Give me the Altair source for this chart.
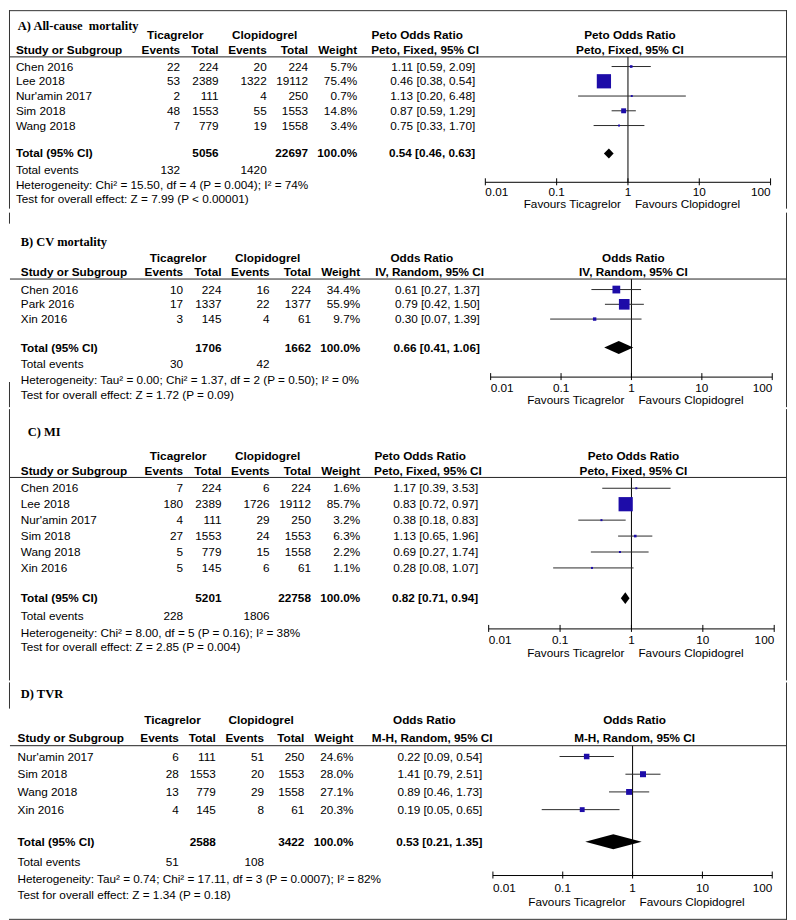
import altair as alt
import pandas as pd

# ---------------- DATA ----------------
# A) All-cause mortality (Peto, Fixed)
A_study = ["Chen 2016", "Lee 2018", "Nur'amin 2017", "Sim 2018", "Wang 2018"]
A_tica_ev = [22, 53, 2, 48, 7]
A_tica_tot = [224, 2389, 111, 1553, 779]
A_clop_ev = [20, 1322, 4, 55, 19]
A_clop_tot = [224, 19112, 250, 1553, 1558]
A_weight = [5.7, 75.4, 0.7, 14.8, 3.4]
A_or = [1.11, 0.46, 1.13, 0.87, 0.75]
A_lo = [0.59, 0.38, 0.20, 0.59, 0.33]
A_hi = [2.09, 0.54, 6.48, 1.29, 1.70]
A_total = [5056, 22697, 0.54, 0.46, 0.63]
A_events = [132, 1420]
A_het = "Heterogeneity: Chi\u00b2 = 15.50, df = 4 (P = 0.004); I\u00b2 = 74%"
A_test = "Test for overall effect: Z = 7.99 (P < 0.00001)"
A_method = ["Peto Odds Ratio", "Peto, Fixed, 95% CI"]
A_title = "A) All-cause\u00a0\u00a0mortality"

# B) CV mortality (IV, Random)
B_study = ["Chen 2016", "Park 2016", "Xin 2016"]
B_tica_ev = [10, 17, 3]
B_tica_tot = [224, 1337, 145]
B_clop_ev = [16, 22, 4]
B_clop_tot = [224, 1377, 61]
B_weight = [34.4, 55.9, 9.7]
B_or = [0.61, 0.79, 0.30]
B_lo = [0.27, 0.42, 0.07]
B_hi = [1.37, 1.50, 1.39]
B_total = [1706, 1662, 0.66, 0.41, 1.06]
B_events = [30, 42]
B_het = "Heterogeneity: Tau\u00b2 = 0.00; Chi\u00b2 = 1.37, df = 2 (P = 0.50); I\u00b2 = 0%"
B_test = "Test for overall effect: Z = 1.72 (P = 0.09)"
B_method = ["Odds Ratio", "IV, Random, 95% CI"]
B_title = "B) CV mortality"

# C) MI (Peto, Fixed)
C_study = ["Chen 2016", "Lee 2018", "Nur'amin 2017", "Sim 2018", "Wang 2018", "Xin 2016"]
C_tica_ev = [7, 180, 4, 27, 5, 5]
C_tica_tot = [224, 2389, 111, 1553, 779, 145]
C_clop_ev = [6, 1726, 29, 24, 15, 6]
C_clop_tot = [224, 19112, 250, 1553, 1558, 61]
C_weight = [1.6, 85.7, 3.2, 6.3, 2.2, 1.1]
C_or = [1.17, 0.83, 0.38, 1.13, 0.69, 0.28]
C_lo = [0.39, 0.72, 0.18, 0.65, 0.27, 0.08]
C_hi = [3.53, 0.97, 0.83, 1.96, 1.74, 1.07]
C_total = [5201, 22758, 0.82, 0.71, 0.94]
C_events = [228, 1806]
C_het = "Heterogeneity: Chi\u00b2 = 8.00, df = 5 (P = 0.16); I\u00b2 = 38%"
C_test = "Test for overall effect: Z = 2.85 (P = 0.004)"
C_method = ["Peto Odds Ratio", "Peto, Fixed, 95% CI"]
C_title = "C) MI"

# D) TVR (M-H, Random)
D_study = ["Nur'amin 2017", "Sim 2018", "Wang 2018", "Xin 2016"]
D_tica_ev = [6, 28, 13, 4]
D_tica_tot = [111, 1553, 779, 145]
D_clop_ev = [51, 20, 29, 8]
D_clop_tot = [250, 1553, 1558, 61]
D_weight = [24.6, 28.0, 27.1, 20.3]
D_or = [0.22, 1.41, 0.89, 0.19]
D_lo = [0.09, 0.79, 0.46, 0.05]
D_hi = [0.54, 2.51, 1.73, 0.65]
D_total = [2588, 3422, 0.53, 0.21, 1.35]
D_events = [51, 108]
D_het = "Heterogeneity: Tau\u00b2 = 0.74; Chi\u00b2 = 17.11, df = 3 (P = 0.0007); I\u00b2 = 82%"
D_test = "Test for overall effect: Z = 1.34 (P = 0.18)"
D_method = ["Odds Ratio", "M-H, Random, 95% CI"]
D_title = "D) TVR"

TICKS = [0.01, 0.1, 1, 10, 100]
TICK_LABELS = ["0.01", "0.1", "1", "10", "100"]
FAV = ["Favours Ticagrelor", "Favours Clopidogrel"]

# ---------------- LAYOUT (reference pixel geometry) ----------------
S = 780 / 791.0


def PX(r):
    return (r - 3) * S


def PY(r):
    return (r - 1) * S


FONT = "Liberation Sans"
SERIF = "Liberation Serif"
FS = 11.8
SQ = "#1d0ca8"

LAYOUTS = [
    dict(title=(12, 17), h1=26, h2=42, line=48.5, row0=58.3, sp=15, total=146.7, tev=163.3,
         het=179, test=193.3, axis=176, ticklab=185.5, fav=198,
         study=10, ev1=177, tot1=216, ev2=265, tot2=307, wt=357, ort=477,
         x001=487.3, x100=777.3, dh=5, a=0.86, top=0, height=199, gaps=[]),
    dict(title=(15, 233), h1=249, h2=263.5, line=270.3, row0=281, sp=15, total=340, tev=356.7,
         het=372.5, test=388.3, axis=370, ticklab=380.7, fav=393.3,
         study=15, ev1=180, tot1=219, ev2=268, tot2=310, wt=360, ort=481.7,
         x001=492.7, x100=779, dh=6.5, a=0.78, top=199, height=195, gaps=[(214, 375)]),
    dict(title=(22, 423.3), h1=447.7, h2=463.3, line=470, row0=481, sp=16.2, total=592.7, tev=610.7,
         het=627.7, test=642.7, axis=624, ticklab=635, fav=648.3,
         study=15, ev1=180, tot1=219, ev2=268, tot2=310, wt=360, ort=480,
         x001=490.7, x100=781, dh=6, a=0.79, top=394, height=272, gaps=[]),
    dict(title=(15, 688.3), h1=715, h2=732.7, line=740.7, row0=751.7, sp=18, total=838.3, tev=859,
         het=876, test=892.7, axis=872.7, ticklab=885, fav=900,
         study=11.7, ev1=175.7, tot1=213.3, ev2=262.3, tot2=303.3, wt=353.3, ort=484.3,
         x001=495, x100=779, dh=7.5, a=0.69, top=666, height=238, gaps=[(703, 930)]),
]

PANELS = [
    dict(study=A_study, e1=A_tica_ev, t1=A_tica_tot, e2=A_clop_ev, t2=A_clop_tot, w=A_weight,
         o=A_or, lo=A_lo, hi=A_hi, total=A_total, events=A_events, het=A_het, test=A_test,
         method=A_method, title=A_title),
    dict(study=B_study, e1=B_tica_ev, t1=B_tica_tot, e2=B_clop_ev, t2=B_clop_tot, w=B_weight,
         o=B_or, lo=B_lo, hi=B_hi, total=B_total, events=B_events, het=B_het, test=B_test,
         method=B_method, title=B_title),
    dict(study=C_study, e1=C_tica_ev, t1=C_tica_tot, e2=C_clop_ev, t2=C_clop_tot, w=C_weight,
         o=C_or, lo=C_lo, hi=C_hi, total=C_total, events=C_events, het=C_het, test=C_test,
         method=C_method, title=C_title),
    dict(study=D_study, e1=D_tica_ev, t1=D_tica_tot, e2=D_clop_ev, t2=D_clop_tot, w=D_weight,
         o=D_or, lo=D_lo, hi=D_hi, total=D_total, events=D_events, het=D_het, test=D_test,
         method=D_method, title=D_title),
]


def fmt_or(o, l, h):
    return f"{o:.2f} [{l:.2f}, {h:.2f}]"


def build_panel(idx, D, L):
    top, height = L["top"], L["height"]

    def ly(r):
        return PY(r) - top

    n = len(D["study"])
    rows = [L["row0"] + k * L["sp"] for k in range(n)]
    x_one = (L["x001"] + L["x100"]) / 2.0

    items = []

    def add(t, xr, yr, align, bold=False):
        items.append(dict(text=str(t), x=PX(xr), y=ly(yr), align=align, bold=bold))

    # headers
    add("Ticagrelor", L["tot1"] - 44, L["h1"], "center", True)
    add("Clopidogrel", L["tot2"] - 44, L["h1"], "center", True)
    add(D["method"][0], L["ort"] - 59, L["h1"], "center", True)
    add(D["method"][0], x_one + 2, L["h1"], "center", True)
    add("Study or Subgroup", L["study"], L["h2"], "left", True)
    add("Events", L["ev1"], L["h2"], "right", True)
    add("Total", L["tot1"], L["h2"], "right", True)
    add("Events", L["ev2"], L["h2"], "right", True)
    add("Total", L["tot2"], L["h2"], "right", True)
    add("Weight", L["wt"], L["h2"], "right", True)
    add(D["method"][1], L["ort"] - 51, L["h2"], "center", True)
    add(D["method"][1], x_one + 2, L["h2"], "center", True)
    # study rows
    for k in range(n):
        yr = rows[k]
        add(D["study"][k], L["study"], yr, "left")
        add(D["e1"][k], L["ev1"], yr, "right")
        add(D["t1"][k], L["tot1"], yr, "right")
        add(D["e2"][k], L["ev2"], yr, "right")
        add(D["t2"][k], L["tot2"], yr, "right")
        add(f"{D['w'][k]:.1f}%", L["wt"], yr, "right")
        add(fmt_or(D["o"][k], D["lo"][k], D["hi"][k]), L["ort"], yr, "right")
    # totals
    T = D["total"]
    add("Total (95% CI)", L["study"], L["total"], "left", True)
    add(T[0], L["tot1"], L["total"], "right", True)
    add(T[1], L["tot2"], L["total"], "right", True)
    add("100.0%", L["wt"], L["total"], "right", True)
    add(fmt_or(T[2], T[3], T[4]), L["ort"], L["total"], "right", True)
    add("Total events", L["study"], L["tev"], "left")
    add(D["events"][0], L["ev1"], L["tev"], "right")
    add(D["events"][1], L["ev2"], L["tev"], "right")
    add(D["het"], L["study"], L["het"], "left")
    add(D["test"], L["study"], L["test"], "left")

    tdf = pd.DataFrame(items)
    layers = []
    for (al, b), g in tdf.groupby(["align", "bold"]):
        layers.append(
            alt.Chart(g).mark_text(align=al, baseline="middle", font=FONT, fontSize=FS,
                                   fontWeight="bold" if b else "normal", color="black")
            .encode(x=alt.X("x:Q", scale=None, axis=None),
                    y=alt.Y("y:Q", scale=None, axis=None),
                    text="text:N")
        )
    # title
    tdf2 = pd.DataFrame({"text": [D["title"]], "x": [PX(L["title"][0])], "y": [ly(L["title"][1])]})
    layers.append(
        alt.Chart(tdf2).mark_text(align="left", baseline="middle", font=SERIF, fontSize=12.5,
                                  fontWeight="bold", color="black")
        .encode(x=alt.X("x:Q", scale=None, axis=None), y=alt.Y("y:Q", scale=None, axis=None),
                text="text:N")
    )

    # forest plot
    xs = alt.Scale(type="log", domain=[0.01, 100], range=[PX(L["x001"]), PX(L["x100"])])
    sdf = pd.DataFrame({
        "o": D["o"], "lo": D["lo"], "hi": D["hi"], "w": D["w"],
        "y": [ly(r) for r in rows],
    })
    sdf["area"] = [max(2.0, L["a"] * (w ** 0.65)) ** 2 for w in D["w"]]

    # reference line at 1
    rdf = pd.DataFrame({"v": [1], "y": [ly(L["line"])], "y2": [ly(L["axis"])]})
    layers.append(
        alt.Chart(rdf).mark_rule(color="black", strokeWidth=1)
        .encode(x=alt.X("v:Q", scale=xs, axis=None), y=alt.Y("y:Q", scale=None, axis=None), y2="y2:Q")
    )
    layers.append(
        alt.Chart(sdf).mark_rule(color="#2b2b2b", strokeWidth=1)
        .encode(x=alt.X("lo:Q", scale=xs, axis=None), x2="hi:Q",
                y=alt.Y("y:Q", scale=None, axis=None))
    )
    layers.append(
        alt.Chart(sdf).mark_square(color=SQ, opacity=1, filled=True)
        .encode(x=alt.X("o:Q", scale=xs, axis=None), y=alt.Y("y:Q", scale=None, axis=None),
                size=alt.Size("area:Q", scale=None, legend=None))
    )
    # diamond
    yc = ly(L["total"])
    dh = L["dh"]
    ddf = pd.DataFrame({"x": [T[3], T[2], T[4]], "y": [yc, yc - dh, yc], "y2": [yc, yc + dh, yc]})
    layers.append(
        alt.Chart(ddf).mark_area(color="black", opacity=1)
        .encode(x=alt.X("x:Q", scale=xs, axis=None),
                y=alt.Y("y:Q", scale=None, axis=None, stack=None), y2="y2:Q")
    )
    # axis
    ya = ly(L["axis"])
    adf = pd.DataFrame({"a": [TICKS[0]], "b": [TICKS[-1]], "y": [ya]})
    layers.append(
        alt.Chart(adf).mark_rule(color="black", strokeWidth=1)
        .encode(x=alt.X("a:Q", scale=xs, axis=None), x2="b:Q", y=alt.Y("y:Q", scale=None, axis=None))
    )
    aligns = ["left"] + ["center"] * (len(TICKS) - 2) + ["right"]
    tkdf = pd.DataFrame({"t": TICKS, "lab": TICK_LABELS, "al": aligns,
                         "y": [ya - 4] * len(TICKS), "y2": [ya + 3] * len(TICKS),
                         "yl": [ly(L["ticklab"])] * len(TICKS)})
    layers.append(
        alt.Chart(tkdf).mark_rule(color="black", strokeWidth=1)
        .encode(x=alt.X("t:Q", scale=xs, axis=None), y=alt.Y("y:Q", scale=None, axis=None), y2="y2:Q")
    )
    for al in ["left", "center", "right"]:
        g = tkdf[tkdf["al"] == al]
        layers.append(
            alt.Chart(g).mark_text(align=al, baseline="middle", font=FONT, fontSize=FS, color="black")
            .encode(x=alt.X("t:Q", scale=xs, axis=None), y=alt.Y("yl:Q", scale=None, axis=None),
                    text="lab:N")
        )
    fdf = pd.DataFrame({"v": [1], "y": [ly(L["fav"])], "l": [FAV[0]], "r": [FAV[1]]})
    layers.append(
        alt.Chart(fdf).mark_text(align="right", baseline="middle", font=FONT, fontSize=FS, color="black", dx=-7)
        .encode(x=alt.X("v:Q", scale=xs, axis=None), y=alt.Y("y:Q", scale=None, axis=None), text="l:N")
    )
    layers.append(
        alt.Chart(fdf).mark_text(align="left", baseline="middle", font=FONT, fontSize=FS, color="black", dx=7)
        .encode(x=alt.X("v:Q", scale=xs, axis=None), y=alt.Y("y:Q", scale=None, axis=None), text="r:N")
    )

    # header separator line
    layers.append(
        alt.Chart(pd.DataFrame({"k": [0]})).mark_rule(color="#222222", strokeWidth=1)
        .encode(x=alt.value(PX(4)), x2=alt.value(PX(793)), y=alt.value(ly(L["line"])))
    )

    # frame: right border, left border (with gaps), top / bottom
    layers.append(
        alt.Chart(pd.DataFrame({"k": [0]})).mark_rule(color="#333333", strokeWidth=1)
        .encode(x=alt.value(779.5), y=alt.value(0), y2=alt.value(height))
    )
    segs = []
    start = 0.0
    for g0, g1 in L["gaps"]:
        segs.append((start, min(height, ly(g0))))
        start = ly(g1)
    if start < height:
        segs.append((start, height))
    for s0, s1 in segs:
        if s1 > s0:
            layers.append(
                alt.Chart(pd.DataFrame({"k": [0]})).mark_rule(color="#333333", strokeWidth=1)
                .encode(x=alt.value(0.5), y=alt.value(s0), y2=alt.value(s1))
            )
    if idx == 0:
        layers.append(
            alt.Chart(pd.DataFrame({"k": [0]})).mark_rule(color="#333333", strokeWidth=1)
            .encode(x=alt.value(0), x2=alt.value(780), y=alt.value(0.5))
        )
    if idx == 3:
        layers.append(
            alt.Chart(pd.DataFrame({"k": [0]})).mark_rule(color="#333333", strokeWidth=1)
            .encode(x=alt.value(0), x2=alt.value(780), y=alt.value(height - 0.5))
        )

    return alt.layer(*layers).properties(width=780, height=height)


panels = [build_panel(i, PANELS[i], LAYOUTS[i]) for i in range(4)]

chart = alt.vconcat(*panels, spacing=0).properties(padding=0).configure_view(stroke=None)

chart.save("out.html", embed_options={"renderer": "svg", "actions": False})
